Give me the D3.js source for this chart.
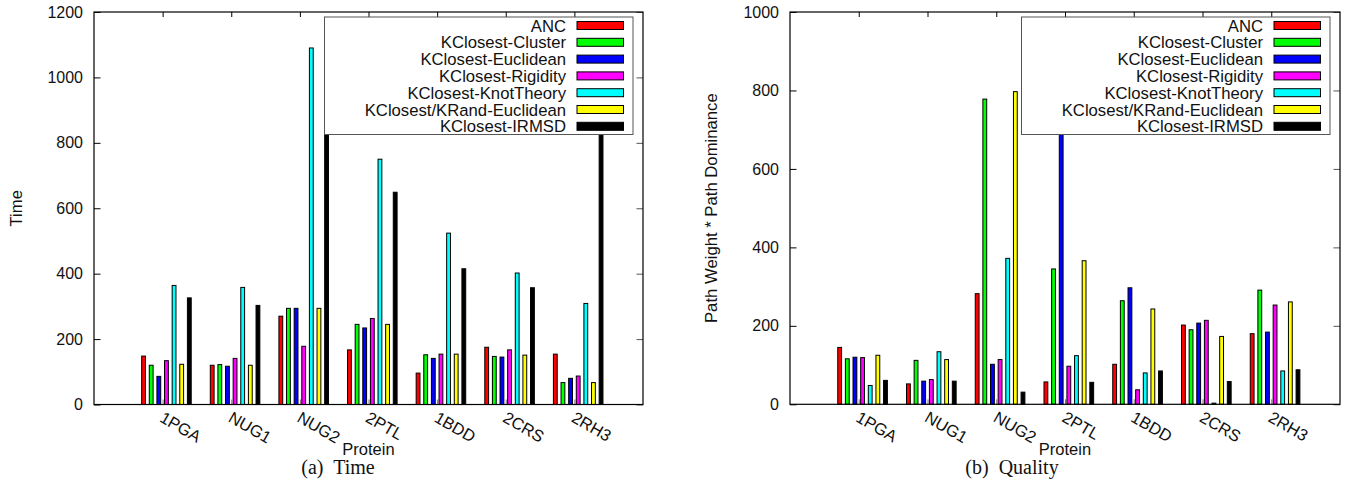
<!DOCTYPE html>
<html>
<head>
<meta charset="utf-8">
<script src="https://cdn.jsdelivr.net/npm/d3@7/dist/d3.min.js"></script>
<style>
  body { margin: 0; background: #fff; }
  text { font-family: "Liberation Sans", Arial, sans-serif; fill: #111; }
  .caption { font-family: "Liberation Serif", "Times New Roman", serif; }
</style>
</head>
<body>
<script>
const proteins = ['1PGA', 'NUG1', 'NUG2', '2PTL', '1BDD', '2CRS', '2RH3']
const methods = ['ANC', 'KClosest-Cluster', 'KClosest-Euclidean', 'KClosest-Rigidity',
                 'KClosest-KnotTheory', 'KClosest/KRand-Euclidean', 'KClosest-IRMSD']
const colors = ['#ff0000', '#00ff00', '#0000ff', '#ff00ff', '#00ffff', '#ffff00', '#000000']

// (a) Time
const timeANC        = [148, 120, 270, 167,  96, 175, 154]
const timeCluster    = [120, 122, 294, 245, 152, 147,  67]
const timeEuclidean  = [ 86, 117, 294, 234, 141, 145,  80]
const timeRigidity   = [134, 141, 178, 263, 154, 167,  87]
const timeKnot       = [364, 358, 1090, 750, 524, 402, 309]
const timeKRand      = [123, 120, 294, 245, 154, 151,  67]
const timeIRMSD      = [326, 303, 940, 649, 415, 357, 1150]

// (b) Quality
const qualANC        = [145,  52, 282,  57, 102, 202, 180]
const qualCluster    = [116, 112, 778, 345, 264, 190, 291]
const qualEuclidean  = [120,  59, 102, 867, 297, 207, 184]
const qualRigidity   = [119,  63, 114,  97,  37, 214, 253]
const qualKnot       = [ 48, 134, 372, 124,  80,   3,  85]
const qualKRand      = [125, 114, 797, 366, 243, 173, 261]
const qualIRMSD      = [ 61,  59,  31,  56,  85,  58,  88]

const yTimeTicks = [0, 200, 400, 600, 800, 1000, 1200]
const yQualTicks = [0, 200, 400, 600, 800, 1000]

const svg = d3.select('body').append('svg')
    .attr('width', 1349)
    .attr('height', 485)

function drawPanel(p) {
    const g = svg.append('g')
    const x = d3.scaleLinear().domain([-1, 7]).range([p.left, p.right])
    const y = d3.scaleLinear().domain([0, p.ymax]).range([p.bottom, p.top])
    const slot = 1 / 9

    // mirrored ticks, drawn first so bars sit over them
    g.append('g')
        .attr('transform', `translate(0, ${p.bottom})`)
        .call(d3.axisBottom(x).tickValues(d3.range(7)).tickSizeInner(-5).tickSizeOuter(0).tickFormat(''))
        .call(a => a.select('.domain').remove())
        .selectAll('line').attr('stroke', '#777')
    g.append('g')
        .attr('transform', `translate(0, ${p.top})`)
        .call(d3.axisTop(x).tickValues(d3.range(7)).tickSizeInner(-5).tickSizeOuter(0).tickFormat(''))
        .call(a => a.select('.domain').remove())
    g.append('g')
        .attr('transform', `translate(${p.left}, 0)`)
        .call(d3.axisLeft(y).tickValues(p.yticks).tickSizeInner(-6.5).tickSizeOuter(0)
            .tickPadding(11).tickFormat(d3.format('d')))
        .call(a => a.select('.domain').remove())
        .selectAll('text').style('font-size', '16px').style('font-family', null)
    g.append('g')
        .attr('transform', `translate(${p.right}, 0)`)
        .call(d3.axisRight(y).tickValues(p.yticks).tickSizeInner(-6.5).tickSizeOuter(0).tickFormat(''))
        .call(a => a.select('.domain').remove())
        .selectAll('line').attr('stroke', '#555')
    g.selectAll('.tick text').attr('font-family', null)

    // bars
    p.series.forEach((vals, j) => {
        g.append('g').selectAll('rect')
            .data(vals)
            .enter()
            .append('rect')
            .attr('x', (d, i) => x(i + (j - 2.5) * slot) - x(0.25 * slot) + x(0))
            .attr('width', x(0.5 * slot) - x(0))
            .attr('y', d => y(d))
            .attr('height', d => y(0) - y(d))
            .attr('fill', colors[j])
            .attr('stroke', '#000')
            .attr('stroke-width', 1)
    })

    // frame
    g.append('rect')
        .attr('x', p.left).attr('y', p.top)
        .attr('width', p.right - p.left).attr('height', p.bottom - p.top)
        .attr('fill', 'none').attr('stroke', '#000').attr('stroke-width', 1.2)

    // category labels
    g.selectAll('.cat')
        .data(proteins)
        .enter()
        .append('text')
        .attr('class', 'cat')
        .attr('transform', (d, i) => `translate(${x(i) + 2}, ${p.bottom + 6}) rotate(30)`)
        .attr('dominant-baseline', 'hanging')
        .style('font-size', '16.5px')
        .text(d => d)

    // legend
    const lx1 = p.right - 10, lx0 = lx1 - 308.5
    const lg = g.append('g')
    lg.append('rect')
        .attr('x', lx0).attr('y', p.top + 5)
        .attr('width', lx1 - lx0).attr('height', 117.5)
        .attr('fill', '#fff').attr('stroke', '#555').attr('stroke-width', 1)
    methods.forEach((m, j) => {
        const cy = p.top + 13.5 + j * 16.8
        lg.append('text')
            .attr('x', p.right - 77).attr('y', cy)
            .attr('text-anchor', 'end')
            .attr('dy', '0.36em')
            .style('font-size', '16.7px')
            .text(m)
        lg.append('rect')
            .attr('x', p.right - 66).attr('y', cy - 4)
            .attr('width', 46.5).attr('height', 8)
            .attr('fill', colors[j]).attr('stroke', '#000').attr('stroke-width', 1)
    })

    // axis titles
    g.append('text')
        .attr('transform', `translate(${p.ytitleX}, ${(p.top + p.bottom) / 2}) rotate(-90)`)
        .attr('text-anchor', 'middle')
        .style('font-size', '16.7px')
        .text(p.ytitle)
    g.append('text')
        .attr('x', (p.left + p.right) / 2).attr('y', 455)
        .attr('text-anchor', 'middle')
        .style('font-size', '16.5px')
        .text('Protein')
    g.append('text')
        .attr('class', 'caption')
        .attr('x', p.capX).attr('y', 474)
        .attr('text-anchor', 'middle')
        .style('font-size', '20px')
        .style('white-space', 'pre')
        .attr('xml:space', 'preserve')
        .text(p.caption)
}

drawPanel({
    left: 94, right: 643, top: 12, bottom: 404.5,
    ymax: 1200, yticks: yTimeTicks,
    series: [timeANC, timeCluster, timeEuclidean, timeRigidity, timeKnot, timeKRand, timeIRMSD],
    ytitle: 'Time', ytitleX: 22,
    caption: '(a)  Time', capX: 338
})

drawPanel({
    left: 790, right: 1340, top: 12, bottom: 404.3,
    ymax: 1000, yticks: yQualTicks,
    series: [qualANC, qualCluster, qualEuclidean, qualRigidity, qualKnot, qualKRand, qualIRMSD],
    ytitle: 'Path Weight * Path Dominance', ytitleX: 717,
    caption: '(b)  Quality', capX: 1012
})
</script>
</body>
</html>
